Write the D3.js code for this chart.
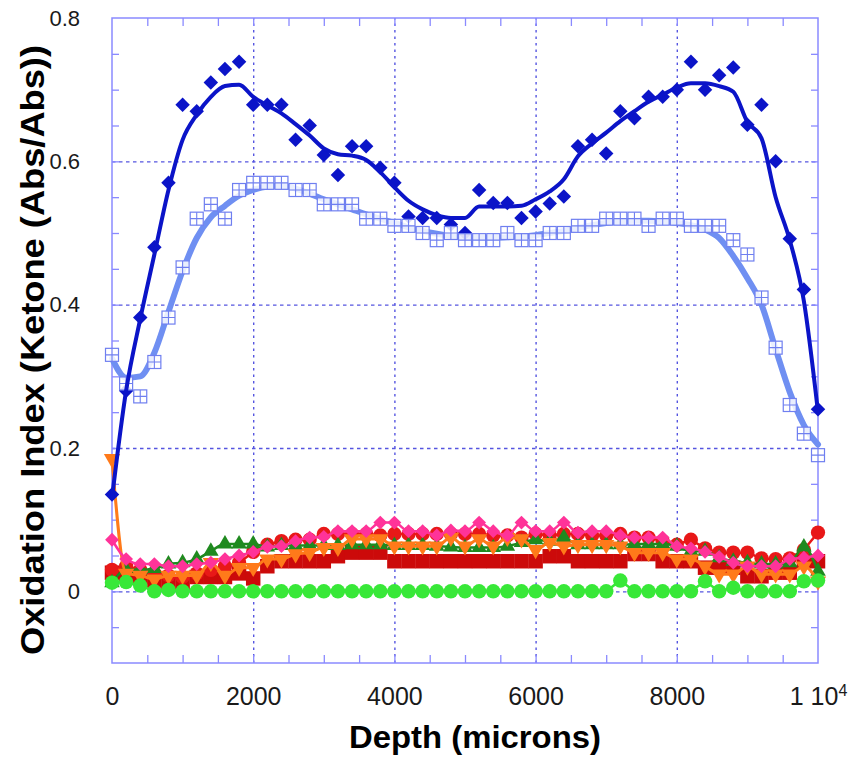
<!DOCTYPE html>
<html><head><meta charset="utf-8">
<script src="https://cdn.jsdelivr.net/npm/d3@7/dist/d3.min.js"></script>
<style>body{margin:0;background:#fff}svg{display:block}</style>
</head><body>
<svg id="chart" width="849" height="757"></svg>
<script>
// ---------- data (depth in microns, oxidation index) ----------
const depth = [0,200,400,600,800,1000,1200,1400,1600,1800,2000,2200,2400,2600,2800,3000,3200,3400,3600,3800,4000,4200,4400,4600,4800,5000,5200,5400,5600,5800,6000,6200,6400,6600,6800,7000,7200,7400,7600,7800,8000,8200,8400,8600,8800,9000,9200,9400,9600,9800,10000];

const darkBlue = [0.135,0.28,0.382,0.48,0.57,0.679,0.67,0.71,0.729,0.739,0.679,0.679,0.679,0.63,0.65,0.609,0.581,0.621,0.621,0.591,0.57,0.523,0.521,0.521,0.512,0.50,0.56,0.542,0.542,0.521,0.53,0.541,0.551,0.621,0.63,0.611,0.67,0.66,0.69,0.69,0.70,0.739,0.70,0.72,0.731,0.651,0.679,0.60,0.492,0.421,0.254];
const darkBlueFit = [0.13,0.28,0.38,0.47,0.56,0.63,0.665,0.69,0.705,0.707,0.69,0.678,0.667,0.652,0.636,0.618,0.61,0.608,0.602,0.585,0.564,0.545,0.533,0.525,0.521,0.521,0.537,0.537,0.537,0.538,0.547,0.558,0.575,0.607,0.625,0.64,0.656,0.67,0.683,0.693,0.703,0.709,0.709,0.705,0.697,0.655,0.632,0.55,0.49,0.405,0.25];

const lightBlue = [0.33,0.29,0.272,0.32,0.382,0.452,0.52,0.54,0.52,0.56,0.57,0.57,0.57,0.56,0.56,0.54,0.54,0.54,0.52,0.52,0.51,0.51,0.50,0.49,0.50,0.49,0.49,0.49,0.50,0.49,0.49,0.50,0.50,0.51,0.51,0.52,0.52,0.52,0.51,0.52,0.52,0.51,0.51,0.51,0.49,0.47,0.41,0.34,0.26,0.22,0.19];
const lightBlueFit = [0.325,0.298,0.30,0.333,0.39,0.447,0.493,0.522,0.538,0.552,0.56,0.565,0.566,0.562,0.555,0.547,0.54,0.533,0.526,0.52,0.514,0.508,0.503,0.499,0.496,0.494,0.493,0.493,0.494,0.495,0.497,0.50,0.503,0.507,0.511,0.514,0.516,0.517,0.517,0.516,0.514,0.511,0.505,0.493,0.468,0.437,0.40,0.338,0.278,0.232,0.205];

const redCircles = [0.03,0.035,0.03,0.025,0.022,0.02,0.025,0.03,0.035,0.04,0.055,0.065,0.07,0.072,0.072,0.08,0.08,0.08,0.08,0.078,0.08,0.08,0.08,0.08,0.08,0.08,0.08,0.078,0.078,0.075,0.08,0.078,0.08,0.08,0.078,0.078,0.08,0.075,0.075,0.07,0.065,0.072,0.06,0.054,0.054,0.054,0.046,0.045,0.046,0.058,0.082];
const darkRedSquares = [0.026,0.022,0.02,0.015,0.012,0.012,0.02,0.02,0.02,0.025,0.018,0.035,0.042,0.042,0.042,0.042,0.049,0.054,0.054,0.054,0.042,0.042,0.042,0.042,0.042,0.042,0.042,0.042,0.042,0.042,0.042,0.049,0.049,0.042,0.042,0.042,0.042,0.052,0.052,0.042,0.042,0.042,0.033,0.033,0.033,0.021,0.021,0.026,0.026,0.042,0.042];
const orangeTri = [0.185,0.025,0.022,0.017,0.022,0.022,0.022,0.04,0.022,0.033,0.033,0.045,0.045,0.052,0.054,0.061,0.061,0.073,0.073,0.073,0.063,0.063,0.063,0.063,0.075,0.063,0.073,0.063,0.075,0.073,0.058,0.068,0.063,0.065,0.065,0.065,0.063,0.054,0.054,0.054,0.045,0.045,0.035,0.024,0.024,0.035,0.024,0.024,0.024,0.035,0.014];
const pinkDia = [0.072,0.045,0.038,0.038,0.035,0.035,0.038,0.04,0.045,0.05,0.055,0.062,0.063,0.07,0.075,0.076,0.084,0.084,0.084,0.096,0.096,0.084,0.084,0.078,0.085,0.084,0.096,0.084,0.078,0.096,0.084,0.084,0.096,0.082,0.084,0.084,0.078,0.075,0.075,0.075,0.063,0.06,0.055,0.048,0.04,0.035,0.035,0.035,0.045,0.047,0.05];
const darkGreenTri = [0.012,0.03,0.03,0.032,0.038,0.04,0.045,0.056,0.066,0.066,0.066,0.062,0.064,0.064,0.064,0.064,0.064,0.065,0.065,0.065,0.064,0.064,0.064,0.063,0.062,0.061,0.061,0.061,0.063,0.068,0.072,0.07,0.075,0.065,0.065,0.065,0.065,0.066,0.066,0.066,0.063,0.056,0.056,0.047,0.042,0.04,0.038,0.038,0.04,0.062,0.028];
const brightGreen = [0.012,0.013,0.008,0.0,0.002,0.0,0.0,0.0,0.0,0.0,0.0,0.0,0.0,0.0,0.0,0.0,0.0,0.0,0.0,0.0,0.0,0.0,0.0,0.0,0.0,0.0,0.0,0.0,0.0,0.0,0.0,0.0,0.0,0.0,0.0,0.0,0.015,0.0,0.0,0.0,0.0,0.0,0.014,0.0,0.005,0.0,0.0,0.0,0.0,0.014,0.015];

const xMajor = [0,2000,4000,6000,8000,10000];
const xMinor = [500,1000,1500,2000,2500,3000,3500,4000,4500,5000,5500,6000,6500,7000,7500,8000,8500,9000,9500];
const xGrid = [2000,4000,6000,8000];
const yMajor = [0,0.2,0.4,0.6,0.8];
const yMinor = [-0.05,0,0.05,0.1,0.15,0.2,0.25,0.3,0.35,0.4,0.45,0.5,0.55,0.6,0.65,0.7,0.75];
const yGrid = [0,0.2,0.4,0.6];
const xTitle = "Depth (microns)";
const yTitle = "Oxidation Index (Ketone (Abs/Abs))";

// ---------- layout ----------
const L = 112, R = 818, T = 18, B = 663;
const svg = d3.select("#chart");
const x = d3.scaleLinear().domain([0, 10000]).range([L, R]);
const y = d3.scaleLinear().domain([-0.1, 0.8]).range([B, T]);
const FRAME = "#8a8aff", GRID = "#5555e0";
const FONT = "'Liberation Sans', Arial, Helvetica, sans-serif";

// grid lines
svg.append("g").attr("transform", `translate(0,${B})`)
  .call(d3.axisBottom(x).tickValues(xGrid).tickSize(-(B - T)).tickFormat(""))
  .call(g => g.select(".domain").remove())
  .call(g => g.selectAll("line").attr("stroke", GRID).attr("stroke-width", 1.4).attr("stroke-dasharray", "2.5,4"));
svg.append("g").attr("transform", `translate(${L},0)`)
  .call(d3.axisLeft(y).tickValues(yGrid).tickSize(-(R - L)).tickFormat(""))
  .call(g => g.select(".domain").remove())
  .call(g => g.selectAll("line").attr("stroke", GRID).attr("stroke-width", 1.4).attr("stroke-dasharray", "3.5,3.5"));

// minor ticks, all four sides, pointing inward
function styleTicks(g){ g.select(".domain").remove(); g.selectAll("line").attr("stroke", FRAME).attr("stroke-width", 1.3); }
svg.append("g").attr("transform", `translate(0,${B})`).call(d3.axisBottom(x).tickValues(xMinor).tickSize(-8).tickFormat("")).call(styleTicks);
svg.append("g").attr("transform", `translate(0,${T})`).call(d3.axisTop(x).tickValues(xMinor).tickSize(-8).tickFormat("")).call(styleTicks);
svg.append("g").attr("transform", `translate(${L},0)`).call(d3.axisLeft(y).tickValues(yMinor).tickSize(-7).tickFormat("")).call(styleTicks);
svg.append("g").attr("transform", `translate(${R},0)`).call(d3.axisRight(y).tickValues(yMinor).tickSize(-7).tickFormat("")).call(styleTicks);

// frame
svg.append("rect").attr("x", L).attr("y", T).attr("width", R - L).attr("height", B - T)
  .attr("fill", "none").attr("stroke", FRAME).attr("stroke-width", 1.5);

// tick labels
const xLab = svg.append("g").attr("transform", `translate(0,${B})`)
  .call(d3.axisBottom(x).tickValues(xMajor).tickSize(0).tickPadding(24)
    .tickFormat(d => d === 10000 ? "1 10" : d3.format("d")(d)));
xLab.select(".domain").remove();
xLab.selectAll("text").attr("font-family", FONT).attr("font-size", 25).attr("fill", "#1a1a1a");
xLab.selectAll("text").filter(d => d === 10000)
  .append("tspan").attr("dy", "-0.55em").attr("font-size", 16).text("4");

const yLab = svg.append("g").attr("transform", `translate(${L},0)`)
  .call(d3.axisLeft(y).tickValues(yMajor).tickSize(0).tickPadding(32).tickFormat(d => d === 0 ? "0" : d3.format(".1f")(d)));
yLab.select(".domain").remove();
yLab.selectAll("text").attr("font-family", FONT).attr("font-size", 22).attr("fill", "#1a1a1a");

// axis titles
svg.append("text").attr("x", 475).attr("y", 748).attr("text-anchor", "middle")
  .attr("font-family", FONT).attr("font-weight", "bold").attr("font-size", 32)
  .attr("textLength", 252).attr("lengthAdjust", "spacingAndGlyphs").attr("fill", "#000").text(xTitle);
svg.append("text").attr("transform", "translate(44,350) rotate(-90)").attr("text-anchor", "middle")
  .attr("font-family", FONT).attr("font-weight", "bold").attr("font-size", 34)
  .attr("textLength", 610).attr("lengthAdjust", "spacingAndGlyphs").attr("fill", "#000").text(yTitle);

// ---------- marks ----------
const plot = svg.append("g");
const pts = arr => depth.map((d, i) => [d, arr[i]]);
const lineGen = d3.line().x(d => x(d[0])).y(d => y(d[1]));
const smooth = d3.line().x(d => x(d[0])).y(d => y(d[1])).curve(d3.curveMonotoneX);

function drawLine(arr, color, w, gen){
  plot.append("path").datum(pts(arr)).attr("d", gen || lineGen)
    .attr("fill", "none").attr("stroke", color).attr("stroke-width", w)
    .attr("stroke-linejoin", "round").attr("stroke-linecap", "round");
}
function drawSym(arr, color, symType, size, rot){
  const sym = d3.symbol().type(symType).size(size);
  plot.append("g").selectAll("path").data(pts(arr)).join("path")
    .attr("transform", d => `translate(${x(d[0])},${y(d[1])}) rotate(${rot||0})`)
    .attr("d", sym).attr("fill", color);
}

// bottom group
drawSym(darkRedSquares, "#cc0a0a", d3.symbolSquare, 210, 0);
drawLine(redCircles, "#e81818", 2.5);
drawSym(redCircles, "#e81818", d3.symbolCircle, 160, 0);
drawLine(darkGreenTri, "#1f8a1f", 2.5, smooth);
drawSym(darkGreenTri, "#1f8a1f", d3.symbolTriangle, 105, 0);
drawLine(orangeTri, "#ff7a1a", 3, smooth);
drawSym(orangeTri, "#ff7a1a", d3.symbolTriangle, 115, 180);
drawLine(pinkDia, "#ff3399", 2.5, smooth);
drawSym(pinkDia, "#ff3399", d3.symbolSquare, 95, 45);
drawLine(brightGreen, "#38e838", 2.5);
drawSym(brightGreen, "#38e838", d3.symbolCircle, 165, 0);

// blue group
drawLine(lightBlueFit, "#6f8ff2", 6, smooth);
drawSym(darkBlue, "#0b14c8", d3.symbolSquare, 105, 45);
const sq = plot.append("g").selectAll("g").data(pts(lightBlue)).join("g")
  .attr("transform", d => `translate(${x(d[0])},${y(d[1])})`);
sq.append("rect").attr("x", -6.5).attr("y", -6.5).attr("width", 13).attr("height", 13)
  .attr("fill", "#fff").attr("fill-opacity", 0.85).attr("stroke", "#6f7ff0").attr("stroke-width", 1.2);
sq.append("path").attr("d", "M0,-6.5V6.5M-6.5,0H6.5").attr("stroke", "#6f7ff0").attr("stroke-width", 1.1);
drawLine(darkBlueFit, "#0b14c8", 4, smooth);
</script>
</body></html>
